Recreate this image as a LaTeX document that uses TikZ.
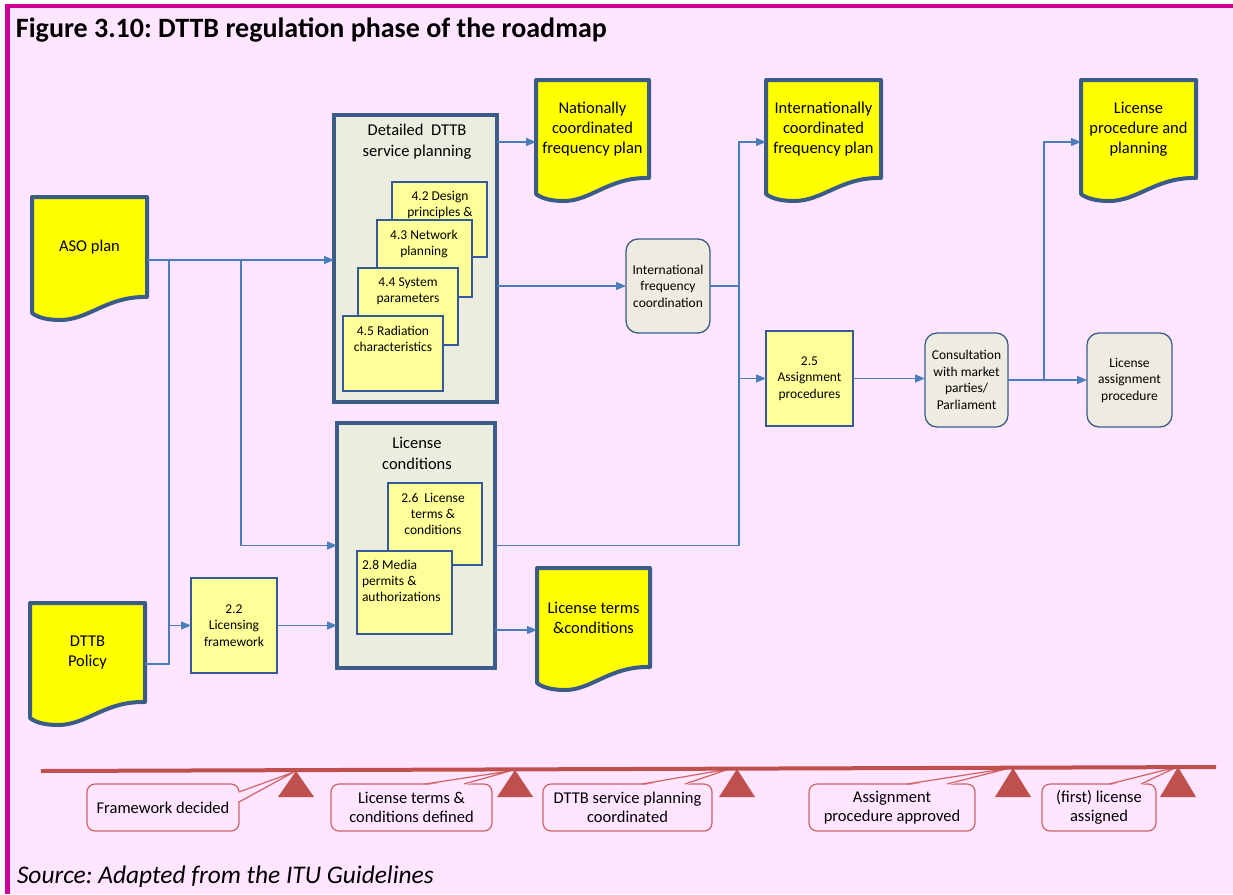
\documentclass[tikz,border=0pt]{standalone}
\usepackage{fontspec}
\setmainfont{Carlito}
\usetikzlibrary{arrows.meta,calc}
\frenchspacing

\definecolor{pagebg}{HTML}{FFE5FF}
\definecolor{framemag}{HTML}{CC0099}
\definecolor{docyel}{HTML}{FFFF00}
\definecolor{noteyel}{HTML}{FFFF99}
\definecolor{edgeblue}{HTML}{3B5C88}
\definecolor{noteedge}{HTML}{35599A}
\definecolor{panelfill}{HTML}{EBEEDF}
\definecolor{tanfill}{HTML}{EEECE1}
\definecolor{wire}{HTML}{4A7EBB}
\definecolor{mile}{HTML}{C0504D}
\definecolor{callline}{HTML}{CF6262}

\newcommand\setfs[2]{\fontsize{#1}{#2}\selectfont}

% document symbol: rectangle with a wavy lower edge
\newcommand\docshape[1]{%
  \draw[docline] (#1.north west) -- (#1.north east) -- (#1.south east)
    .. controls ($(#1.south east)+(-40,-1)$) and ($(#1.south east)+(-58,23)$) .. ($(#1.south west)+(28,23)$)
    .. controls ($(#1.south west)+(14,23)$) and ($(#1.south west)+(5,20)$) .. ($(#1.south west)+(0,16)$)
    -- cycle;}

\begin{document}
\begin{tikzpicture}[x=1pt,y=-1pt,
  every node/.style={inner sep=0pt,outer sep=0pt,text=black},
  sz/.style 2 args={minimum width=#1pt,minimum height=#2pt},
  docline/.style={draw=edgeblue,line width=4pt,fill=docyel,line join=round},
  doctext/.style={align=center,font=\setfs{16.5}{20}},
  panelbox/.style={draw=edgeblue,line width=3.5pt,fill=panelfill},
  paneltitle/.style={align=center,font=\setfs{16.5}{21}},
  note/.style={draw=noteedge,line width=1.3pt,fill=noteyel},
  notetext/.style={align=center,font=\setfs{13.5}{16}},
  boxtext/.style={align=center,font=\setfs{13.5}{16.5}},
  roundbox/.style={draw=edgeblue,line width=1.3pt,fill=tanfill,rounded corners=12pt,boxtext},
  conn/.style={draw=wire,line width=1.3pt},
  arr/.style={conn,-{Triangle[length=10pt,width=8pt]}},
  callbox/.style={draw=callline,line width=1.2pt,fill=pagebg,rounded corners=8pt,
    align=center,font=\setfs{16.5}{19}},
  wedge/.style={draw=callline,line width=1.2pt,line join=miter}
]
\useasboundingbox (0,0) rectangle (1233,894);

% page and frame
\fill[white] (0,0) rectangle (1233,894);
\fill[pagebg] (9,7) rectangle (1233,894);
\fill[framemag] (5,3.5) rectangle (1233,8);
\fill[framemag] (5,3.5) rectangle (9.5,894);

\node[anchor=west,font=\setfs{28}{32}\bfseries] (title) at (16,30.5)
  {Figure 3.10: DTTB regulation phase of the roadmap};
\node[anchor=west,font=\setfs{25.4}{29}\itshape] (source) at (17,877)
  {Source: Adapted from the ITU Guidelines};

% input documents
\node[sz={115}{100}] (aso) at (89.5,247) {};
\docshape{aso}
\node[doctext] at (aso) {ASO plan};

\node[sz={115}{99}] (pol) at (87.5,652.5) {};
\docshape{pol}
\node[doctext] at (pol) {DTTB\\Policy};

% output documents
\node[sz={113}{98}] (nat) at (592.5,129) {};
\docshape{nat}
\node[doctext] at (nat) {Nationally\\coordinated\\frequency plan};

\node[sz={115}{98}] (intl) at (823.5,129) {};
\docshape{intl}
\node[doctext] at (intl) {Internationally\\coordinated\\frequency plan};

\node[sz={115}{98}] (lpp) at (1138.5,129) {};
\docshape{lpp}
\node[doctext] at (lpp) {License\\procedure and\\planning};

\node[sz={113}{99}] (ltc) at (593.5,617.5) {};
\docshape{ltc}
\node[doctext] at (ltc) {License terms\\\&conditions};

% service planning panel
\node[panelbox,sz={163}{287}] (det) at (415.5,258.5) {};
\node[paneltitle] (detT) at (417,141.5) {Detailed\ \ DTTB\\service planning};
\node[note,sz={95}{75}] (n42) at (439.5,219.5) {};
\node[notetext] at (440,204.5) {4.2 Design\\principles \&};
\node[note,sz={95}{77}] (n43) at (424.5,258.5) {};
\node[notetext] at (424,244) {4.3 Network\\planning};
\node[note,sz={100}{77}] (n44) at (408,306.5) {};
\node[notetext] at (408,291.5) {4.4 System\\parameters};
\node[note,sz={100}{75}] (n45) at (393,353.5) {};
\node[notetext] at (393,339) {4.5 Radiation\\characteristics};

% license conditions panel
\node[panelbox,sz={158}{245}] (lic) at (416,545.5) {};
\node[paneltitle] (licT) at (417,453) {License\\conditions};
\node[note,sz={94}{82}] (n26) at (435,524) {};
\node[notetext] at (433,514) {2.6\ \ License\\terms \&\\conditions};
\node[note,sz={95}{83}] (n28) at (404.5,592.5) {};
\node[notetext,align=left,anchor=west] at (362,581) {2.8 Media\\permits \&\\authorizations};

% process steps
\node[note,boxtext,sz={86}{95}] (n22) at (234,625.5) {2.2\\Licensing\\framework};
\node[note,boxtext,sz={87}{95}] (n25) at (809.5,378.5) {2.5\\Assignment\\procedures};
\node[roundbox,sz={84}{94}] (ifc) at (668,286) {International\\frequency\\coordination};
\node[roundbox,sz={83}{94}] (cons) at (966.5,380) {Consultation\\with market\\parties/\\Parliament};
\node[roundbox,sz={85}{94}] (lap) at (1129.5,380) {License\\assignment\\procedure};

% connectors
\coordinate (asoOut) at ($(aso.east)+(0,13)$);
\coordinate (polOut) at ($(pol.east)+(0,11.5)$);
\coordinate (j1) at (169,260);
\coordinate (j2) at (241,260);
\draw[arr] (asoOut) -- (asoOut -| det.west);
\draw[conn] (j1) -- (j1 |- polOut) -- (polOut);
\draw[arr] (n22.west -| j1) -- (n22.west);
\draw[arr] (j2) |- (lic.west);
\draw[arr] (n22.east) -- (n22.east -| lic.west);

\coordinate (natIn) at ($(nat.west)+(0,13)$);
\draw[arr] (natIn -| det.east) -- (natIn);
\draw[arr] (det.east |- ifc.west) -- (ifc.west);

\coordinate (j3) at (739,286);
\coordinate (intlIn) at ($(intl.west)+(0,13)$);
\draw[conn] (ifc.east) -- (j3);
\draw[arr] (j3) |- (intlIn);
\draw[arr] (j3) |- (n25.west);
\draw[conn] (lic.east) -| (j3);

\coordinate (ltcIn) at ($(ltc.west)+(0,12.5)$);
\draw[arr] (ltcIn -| lic.east) -- (ltcIn);

\draw[arr] (n25.east) -- (n25.east -| cons.west);
\draw[arr] (cons.east) -- (lap.west);
\coordinate (j4) at (1044,380);
\coordinate (lppIn) at ($(lpp.west)+(0,13)$);
\draw[arr] (j4) |- (lppIn);

% milestone callouts
\node[callbox,sz={152}{47}] (cb1) at (163,807.5) {Framework decided};
\fill[pagebg] (237.5,792) -- (294,772) -- (237.5,802) -- cycle;
\draw[wedge] (239,792) -- (294,772) -- (239,802);

\node[callbox,sz={161}{47}] (cb2) at (411.5,807.5) {License terms \&\\conditions defined};
\fill[pagebg] (425,785.5) -- (510,771) -- (464,785.5) -- cycle;
\draw[wedge] (425,784) -- (510,771) -- (464,784);

\node[callbox,sz={169}{47}] (cb3) at (627.5,807.5) {DTTB service planning\\coordinated};
\fill[pagebg] (642,785.5) -- (729,769) -- (685,785.5) -- cycle;
\draw[wedge] (642,784) -- (729,769) -- (685,784);

\node[callbox,sz={166}{47}] (cb4) at (892,807.5) {Assignment\\procedure approved};
\fill[pagebg] (907,785.5) -- (1010,768) -- (947,785.5) -- cycle;
\draw[wedge] (907,784) -- (1010,768) -- (947,784);

\node[callbox,sz={114}{47}] (cb5) at (1099,807.5) {(first) license\\assigned};
\fill[pagebg] (1109,785.5) -- (1177,767) -- (1141,785.5) -- cycle;
\draw[wedge] (1109,784) -- (1177,767) -- (1141,784);

% timeline
\coordinate (tlA) at (41,771);
\coordinate (tlB) at (1216,767);
\draw[mile,line width=4pt] (tlA) -- (tlB);
\foreach \px/\py in {296/771,515/770,737/769,1013/768,1178/767}
  \fill[mile] (\px,\py) -- (\px+18,797) -- (\px-18,797) -- cycle;
\end{tikzpicture}
\end{document}
